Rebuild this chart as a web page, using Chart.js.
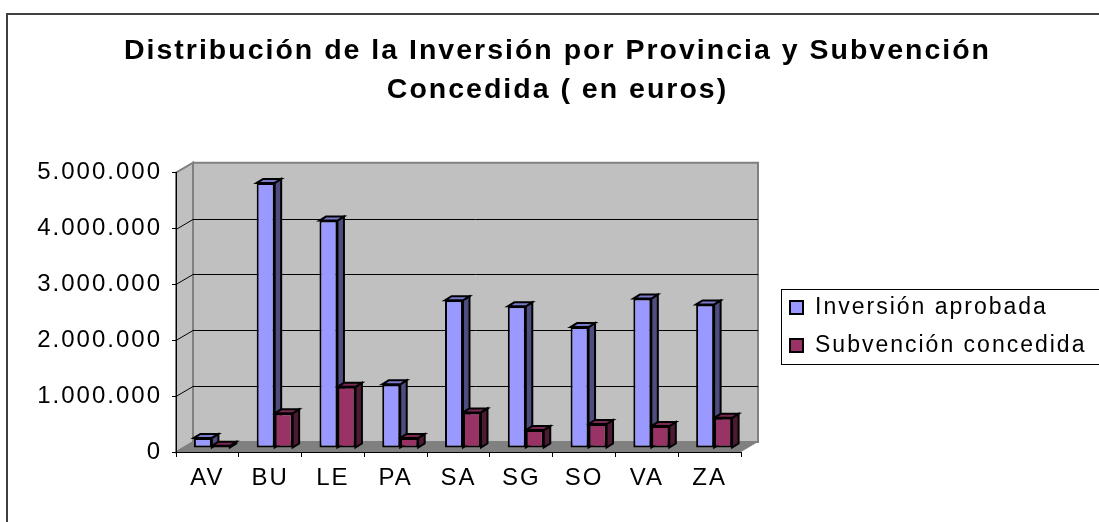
<!DOCTYPE html>
<html>
<head>
<meta charset="utf-8">
<script src="https://cdn.jsdelivr.net/npm/chart.js@4.4.0/dist/chart.umd.min.js"></script>
<style>
    html, body { margin: 0; padding: 0; background: #fff; }
    .canvas-container { width: 1099px; height: 522px; position: relative; }
</style>
</head>
<body>
<div class="canvas-container"><canvas id="myChart"></canvas></div>
<script>
"use strict";
const provincias = ['AV', 'BU', 'LE', 'PA', 'SA', 'SG', 'SO', 'VA', 'ZA'];
const inversionAprobada = [180000, 4745000, 4070000, 1140000, 2645000, 2535000, 2165000, 2675000, 2570000];
const subvencionConcedida = [40000, 620000, 1095000, 180000, 637000, 320000, 430000, 393000, 541000];
const etiquetasSeries = ['Inversión aprobada', 'Subvención concedida'];
const tituloLineas = ['Distribución de la Inversión por Provincia y Subvención', 'Concedida ( en euros)'];

const FUENTE = '"Liberation Sans", Arial, sans-serif';
const ESPACIADO = '2px';
// colores: frente, lateral, techo
const colAzul = ['#9999ff', '#4d4d80', '#7a7acc'];
const colGrana = ['#993366', '#4d1a33', '#7a2952'];

// desplazamientos de la perspectiva
const FONDO = { dx: 17, dy: -10 };   // pared del fondo
const PLANO = { dx: 4.5, dy: -4 };   // plano donde se apoyan las columnas
const PROF = { dx: 6.5, dy: -4 };    // grosor de cada columna

function poligono(ctx, pts, relleno, trazo, ancho) {
    ctx.beginPath();
    ctx.moveTo(pts[0][0], pts[0][1]);
    for (let i = 1; i < pts.length; i++) ctx.lineTo(pts[i][0], pts[i][1]);
    ctx.closePath();
    if (relleno) { ctx.fillStyle = relleno; ctx.fill(); }
    if (trazo) { ctx.strokeStyle = trazo; ctx.lineWidth = ancho || 1; ctx.stroke(); }
}

function formatoMiles(v) {
    return String(v).replace(/\B(?=(\d{3})+(?!\d))/g, '.');
}

// envuelve un metodo de dibujo para que use espaciado entre letras
function conEspaciado(obj, metodo) {
    if (!obj || obj[metodo]._espaciado) return;
    const original = obj[metodo];
    const envuelto = function (...args) {
        const ctx = this.ctx;
        ctx.save();
        ctx.letterSpacing = ESPACIADO;
        original.apply(this, args);
        ctx.restore();
    };
    envuelto._espaciado = true;
    obj[metodo] = envuelto;
}

const escena3d = {
    id: 'escena3d',
    afterLayout(chart) {
        conEspaciado(chart.scales.x, 'drawLabels');
        conEspaciado(chart.scales.y, 'drawLabels');
        conEspaciado(chart.titleBlock, 'draw');
    },
    beforeDraw(chart) {
        const { ctx, chartArea: a } = chart;
        const y = chart.scales.y;
        ctx.save();
        // marco exterior
        ctx.strokeStyle = '#404040';
        ctx.lineWidth = 2;
        ctx.strokeRect(7, 14, 1200, 600);

        const dx = FONDO.dx, dy = FONDO.dy;
        // suelo
        poligono(ctx, [[a.left, a.bottom], [a.left + dx, a.bottom + dy], [a.right + dx, a.bottom + dy], [a.right, a.bottom]], '#808080');
        // pared izquierda
        poligono(ctx, [[a.left, a.top], [a.left + dx, a.top + dy], [a.left + dx, a.bottom + dy], [a.left, a.bottom]], '#c0c0c0', '#808080', 2);
        // pared del fondo
        poligono(ctx, [[a.left + dx, a.top + dy], [a.right + dx, a.top + dy], [a.right + dx, a.bottom + dy], [a.left + dx, a.bottom + dy]], '#c0c0c0', '#808080', 2);

        // lineas de division
        ctx.strokeStyle = '#000';
        ctx.lineWidth = 1;
        y.ticks.forEach(t => {
            if (t.value <= y.min || t.value >= y.max) return;
            const py = Math.round(y.getPixelForValue(t.value)) + 0.5;
            ctx.beginPath();
            ctx.moveTo(a.left, py);
            ctx.lineTo(a.left + dx, py + dy);
            ctx.lineTo(a.right + dx, py + dy);
            ctx.stroke();
        });
        ctx.restore();
    },
    beforeDatasetsDraw(chart) {
        const ctx = chart.ctx;
        ctx.save();
        ctx.translate(PLANO.dx, PLANO.dy);
        chart.data.datasets.forEach((ds, i) => {
            const meta = chart.getDatasetMeta(i);
            meta.data.forEach(bar => {
                const { x, y, base, width } = bar.getProps(['x', 'y', 'base', 'width'], true);
                const l = x - width / 2, r = x + width / 2;
                poligono(ctx, [[r, y], [r + PROF.dx, y + PROF.dy], [r + PROF.dx, base + PROF.dy], [r, base]], ds.colorLateral, '#000', 2);
                poligono(ctx, [[l, y], [l + PROF.dx, y + PROF.dy], [r + PROF.dx, y + PROF.dy], [r, y]], ds.colorTecho, '#000', 2);
            });
        });
    },
    afterDatasetsDraw(chart) {
        chart.ctx.restore();
    },
    afterDraw(chart) {
        const ctx = chart.ctx;
        ctx.save();
        ctx.strokeStyle = '#000';
        ctx.lineWidth = 1;
        ctx.strokeRect(781.5, 289.5, 400, 75);
        ctx.font = '23px ' + FUENTE;
        ctx.letterSpacing = ESPACIADO;
        ctx.textBaseline = 'middle';
        chart.data.datasets.forEach((ds, i) => {
            const cy = 307 + i * 38;
            ctx.fillStyle = ds.backgroundColor;
            ctx.fillRect(790, cy - 6, 13, 13);
            ctx.strokeStyle = '#000';
            ctx.lineWidth = 2;
            ctx.strokeRect(790, cy - 6, 13, 13);
            ctx.fillStyle = '#000';
            ctx.fillText(ds.label, 815, cy + 1);
        });
        ctx.restore();
    }
};

window.addEventListener('load', function () {
    const ctx = document.getElementById('myChart');
    new Chart(ctx, {
        type: 'bar',
        data: {
            labels: provincias,
            datasets: [{
                label: etiquetasSeries[0],
                data: inversionAprobada,
                backgroundColor: colAzul[0],
                colorLateral: colAzul[1],
                colorTecho: colAzul[2],
                borderColor: '#000',
                borderWidth: 2,
                borderSkipped: false,
                clip: false
            }, {
                label: etiquetasSeries[1],
                data: subvencionConcedida,
                backgroundColor: colGrana[0],
                colorLateral: colGrana[1],
                colorTecho: colGrana[2],
                borderColor: '#000',
                borderWidth: 2,
                borderSkipped: false,
                clip: false
            }]
        },
        options: {
            responsive: true,
            maintainAspectRatio: false,
            animation: false,
            layout: { padding: { left: 16, right: 0, top: 0, bottom: 0 } },
            categoryPercentage: 0.573,
            barPercentage: 1.0,
            plugins: {
                legend: { display: false },
                tooltip: { enabled: false },
                title: {
                    display: true,
                    text: tituloLineas,
                    color: '#000',
                    font: { family: FUENTE, size: 28.5, weight: 'bold', lineHeight: 1.38 },
                    padding: { top: 31, bottom: 63 }
                }
            },
            scales: {
                x: {
                    grid: { drawOnChartArea: false, drawTicks: true, tickLength: 5, color: '#000', offset: true },
                    border: { color: '#000', width: 1 },
                    ticks: { color: '#000', font: { family: FUENTE, size: 24 }, padding: 7, maxRotation: 0, autoSkip: false },
                    afterFit(scale) { scale.height = 70; }
                },
                y: {
                    min: 0,
                    max: 5000000,
                    grid: { drawOnChartArea: false, drawTicks: true, tickLength: 4, color: '#000' },
                    border: { color: '#000', width: 1 },
                    ticks: {
                        stepSize: 1000000,
                        color: '#000',
                        padding: 10,
                        font: { family: FUENTE, size: 24 },
                        callback: v => formatoMiles(v)
                    },
                    afterFit(scale) { scale.width = 160; }
                },
                hueco: {
                    type: 'linear',
                    position: 'right',
                    grid: { display: false },
                    border: { display: false },
                    ticks: { display: false },
                    afterFit(scale) { scale.width = 358; }
                }
            }
        },
        plugins: [escena3d]
    });
});
</script>
</body>
</html>
